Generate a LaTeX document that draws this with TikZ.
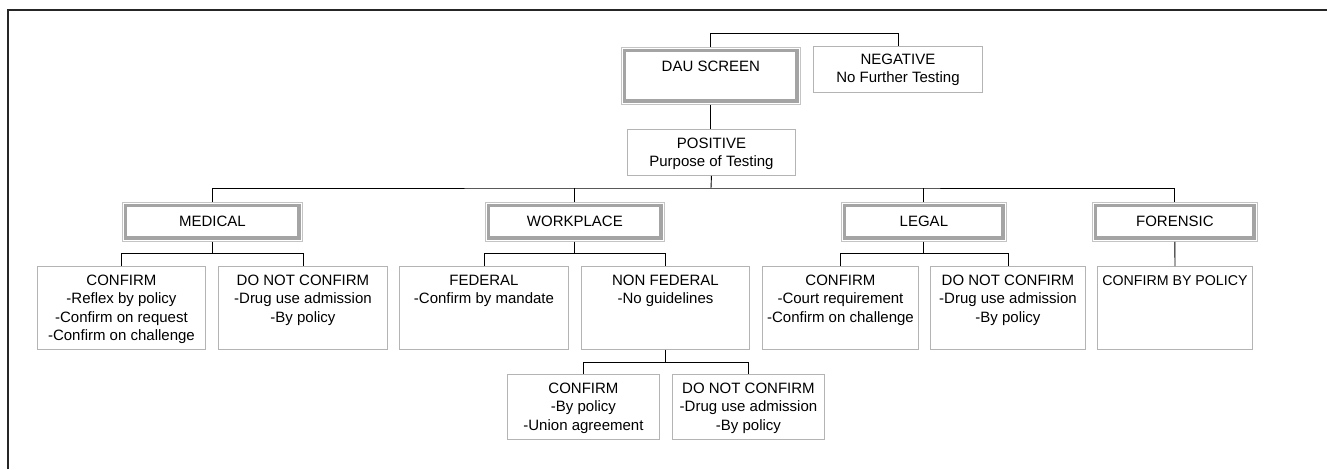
\documentclass[tikz,border=0pt]{standalone}
\usepackage{fontspec}
\setmainfont{Liberation Sans}
\definecolor{boxline}{HTML}{B4B4B4}
\definecolor{bandline}{HTML}{A4A4A4}
\definecolor{outerline}{HTML}{C4C4C4}
\newcommand{\boxlines}[1]{\begin{tabular}[t]{@{}c@{}}#1\end{tabular}}
\tikzset{
  sbox/.style={draw=boxline, line width=0.9pt, inner sep=0pt, anchor=north west,
    text height=19pt, font=\fontsize{15}{18.3}\selectfont},
  dbox/.style={draw=outerline, line width=0.8pt, inner sep=0pt, anchor=north west,
    text height=24pt, font=\fontsize{15}{18.3}\selectfont,
    path picture={\draw[bandline, line width=3.5pt]
      ([shift={(3.2pt,-3.2pt)}]path picture bounding box.north west) rectangle
      ([shift={(-3.2pt,3.2pt)}]path picture bounding box.south east);}},
  conn/.style={draw=black, line width=0.9pt},
  frameline/.style={draw=black!85, line width=1.3pt}
}
\begin{document}
\begin{tikzpicture}[x=1pt,y=-1pt]
\useasboundingbox (0,0) rectangle (1327,469);
% frame
\draw[frameline] (8,469) -- (8,10) -- (1327,10);
% top level
\node[dbox, minimum width=179pt, text depth=33pt] (dau) at (621,47) {DAU SCREEN};
\node[sbox, minimum width=169pt, text height=18pt, text depth=28pt] (neg) at (813,46) {\boxlines{NEGATIVE\\No Further Testing}};
\node[sbox, minimum width=168pt, text depth=27pt] (pos) at (627,129) {\boxlines{POSITIVE\\Purpose of Testing}};
% categories
\node[dbox, minimum width=180pt, text depth=15pt] (med) at (122,202) {MEDICAL};
\node[dbox, minimum width=179pt, text depth=15pt] (wp) at (485,202) {WORKPLACE};
\node[dbox, minimum width=165pt, text depth=15pt] (leg) at (841,202) {LEGAL};
\node[dbox, minimum width=165pt, text depth=15pt] (for) at (1092,202) {FORENSIC};
% second level
\node[sbox, minimum width=168pt, text depth=64pt] (mc) at (37,266) {\boxlines{CONFIRM\\-Reflex by policy\\-Confirm on request\\-Confirm on challenge}};
\node[sbox, minimum width=169pt, text depth=64pt] (md) at (218,266) {\boxlines{DO NOT CONFIRM\\-Drug use admission\\-By policy}};
\node[sbox, minimum width=169pt, text depth=64pt] (fed) at (399,266) {\boxlines{FEDERAL\\-Confirm by mandate}};
\node[sbox, minimum width=168pt, text depth=64pt] (nf) at (581,266) {\boxlines{NON FEDERAL\\-No guidelines}};
\node[sbox, minimum width=156pt, text depth=64pt] (lc) at (762,266) {\boxlines{CONFIRM\\-Court requirement\\-Confirm on challenge}};
\node[sbox, minimum width=155pt, text depth=64pt] (ld) at (930,266) {\boxlines{DO NOT CONFIRM\\-Drug use admission\\-By policy}};
\node[sbox, minimum width=155pt, text depth=64pt, font=\fontsize{14.2}{18.3}\selectfont] (fb) at (1097,266) {CONFIRM BY POLICY};
% third level
\node[sbox, minimum width=152pt, text depth=46pt] (wc) at (507,374) {\boxlines{CONFIRM\\-By policy\\-Union agreement}};
\node[sbox, minimum width=152pt, text depth=46pt] (wd) at (672,374) {\boxlines{DO NOT CONFIRM\\-Drug use admission\\-By policy}};
% connectors
\draw[conn] (dau.north) -- ([yshift=14pt]dau.north) -| (neg.north);
\draw[conn] (dau.south) -- (dau.south |- pos.north);
\coordinate (bus) at (711,188);
\draw[conn] (pos.south) -- (bus);
\draw[conn] (med.north) |- (bus) -| (for.north);
\draw[conn] (wp.north) -- (wp.north |- bus);
\draw[conn] (leg.north) -- (leg.north |- bus);
\draw[conn] (med.south) -- ([yshift=-12pt]med.south);
\draw[conn] (mc.north) |- ([yshift=-12pt]med.south) -| (md.north);
\draw[conn] (wp.south) -- ([yshift=-12pt]wp.south);
\draw[conn] (fed.north) |- ([yshift=-12pt]wp.south) -| (nf.north);
\draw[conn] (leg.south) -- ([yshift=-12pt]leg.south);
\draw[conn] (lc.north) |- ([yshift=-12pt]leg.south) -| (ld.north);
\draw[conn] (for.south) -- (fb.north);
\draw[conn] (nf.south) -- ([yshift=-13pt]nf.south);
\draw[conn] (wc.north) |- ([yshift=-13pt]nf.south) -| (wd.north);
\end{tikzpicture}
\end{document}
